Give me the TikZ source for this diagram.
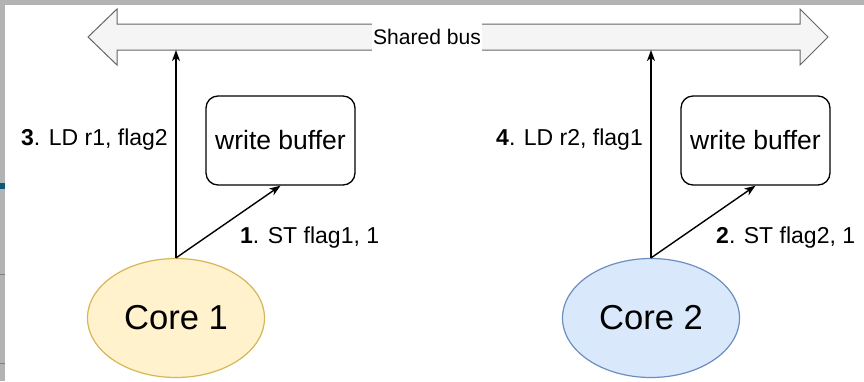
\documentclass[tikz,border=0pt]{standalone}
\usepackage{fontspec}
\setmainfont{Liberation Sans}
\usetikzlibrary{arrows.meta,shapes.geometric}
\definecolor{busfill}{HTML}{F5F5F5}
\definecolor{busline}{HTML}{666666}
\definecolor{c1fill}{HTML}{FFF2CC}
\definecolor{c1line}{HTML}{D6B656}
\definecolor{c2fill}{HTML}{DAE8FC}
\definecolor{c2line}{HTML}{6C8EBF}
\definecolor{framegray}{HTML}{B3B3B3}
\definecolor{framedark}{HTML}{7F7F7F}
\definecolor{frameblue}{HTML}{0B5A7C}
\tikzset{
  core/.style={ellipse, draw, line width=1.2pt, minimum width=177pt, minimum height=119pt, inner sep=0pt, font=\fontsize{34.6}{40}\selectfont},
  wbuf/.style={rectangle, draw=black, rounded corners=12pt, line width=1.3pt, minimum width=149pt, minimum height=89pt, inner sep=0pt, font=\fontsize{26.5}{30}\selectfont},
  lbl/.style={inner sep=0pt, font=\fontsize{23}{27}\selectfont},
  conn/.style={line width=1.4pt, -{Stealth[length=11pt,width=8pt,inset=3pt]}},
}
\begin{document}
\begin{tikzpicture}[x=1pt,y=-1pt]
\useasboundingbox (0,0) rectangle (864,381);
\fill[white] (0,0) rectangle (864,381);
% screenshot frame remnants
\fill[framegray] (0,0) rectangle (864,5);
\fill[framegray] (0,5) rectangle (5,381);
\fill[frameblue] (0,183) rectangle (5,189);
\draw[framedark, line width=0.8pt] (0,274) -- (5,274);
\draw[framedark, line width=0.8pt] (0,363) -- (5,363);
% shared bus
\draw[busline, fill=busfill, line width=1pt, line join=miter]
  (88,37) -- (117,9) -- (117,24) -- (800,24) -- (800,9) -- (828,37) -- (800,65) -- (800,50) -- (117,50) -- (117,65) -- cycle;
\node[fill=white, inner xsep=1.5pt, inner ysep=0pt, minimum height=28pt, font=\fontsize{21.1}{25}\selectfont] (busl) at (427,37) {Shared bus};
\coordinate (b1) at (176,50);
\coordinate (b2) at (651,50);
% cores
\node[core, fill=c1fill, draw=c1line] (core1) at (176,318) {Core 1};
\node[core, fill=c2fill, draw=c2line] (core2) at (651,318) {Core 2};
% write buffers
\node[wbuf] (wb1) at (280.5,140.5) {write buffer};
\node[wbuf] (wb2) at (755.5,140.5) {write buffer};
% connectors
\draw[conn] (core1.north) -- (b1);
\draw[conn] (core1.north) -- (wb1.south);
\draw[conn] (core2.north) -- (b2);
\draw[conn] (core2.north) -- (wb2.south);
% labels
\node[lbl, anchor=east] (l3) at (168,140) {\textbf{3}. LD r1, flag2};
\node[lbl, anchor=west] (l1) at (240,238) {\textbf{1}. ST flag1, 1};
\node[lbl, anchor=east] (l4) at (643,140) {\textbf{4}. LD r2, flag1};
\node[lbl, anchor=west] (l2) at (716,238) {\textbf{2}. ST flag2, 1};
\end{tikzpicture}
\end{document}
